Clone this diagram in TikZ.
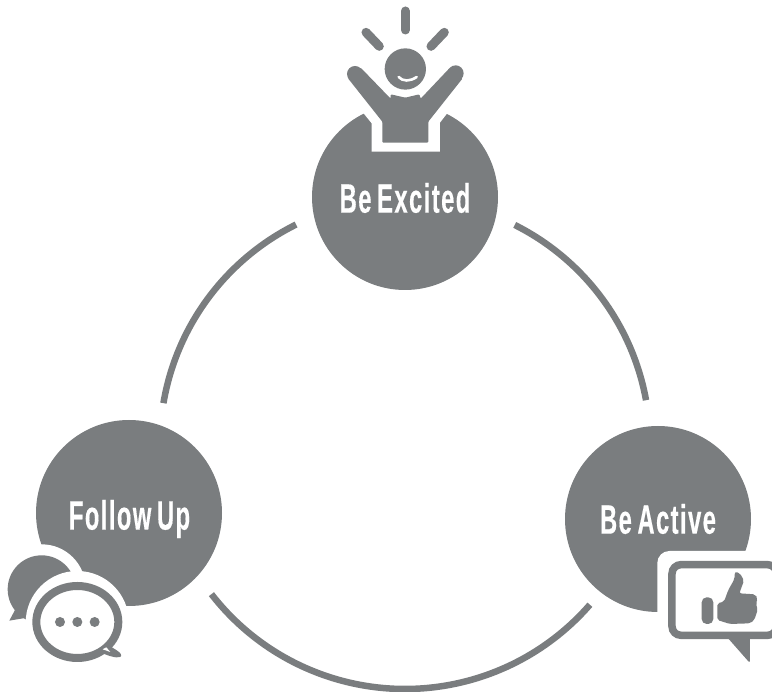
\documentclass[tikz,border=0pt]{standalone}
\usepackage{fontspec}
\setmainfont[FakeStretch=0.58,FakeBold=0.3,LetterSpace=3.5,WordSpace=0.7]{Liberation Sans Bold}
\definecolor{ink}{HTML}{7A7D7F}
\tikzset{
  disc/.style={circle,fill=ink,inner sep=0pt,minimum size=#1},
  lab/.style={text=white,inner sep=0pt,font=\fontsize{41}{41}\selectfont},
  ringarc/.style={draw=ink,line width=6.5pt},
  ray/.style={draw=ink,line width=9pt,line cap=round},
  halo/.style={fill=white,draw=none},
  solid ink/.style={fill=ink,draw=none}
}
\begin{document}
\begin{tikzpicture}[x=1pt,y=-1pt]
\useasboundingbox (0,0) rectangle (772,692);
\clip (0,0) rectangle (772,692);
\coordinate (ring) at (405,444);
\draw[ringarc] ([shift={(243.6:245)}]ring) arc[start angle=243.6,end angle=189.6,radius=245];
\draw[ringarc] ([shift={(-63.4:245)}]ring) arc[start angle=-63.4,end angle=-10.3,radius=245];
\draw[ringarc] ([shift={(142.2:245)}]ring) arc[start angle=142.2,end angle=41,radius=245];
\node[disc=186pt] (top) at (405,197) {};
\node[disc=186pt] (left) at (129,513) {};
\node[disc=186pt] (right) at (658,519) {};
% excited person (coordinates of a 3x crop)
\begin{scope}[shift={(300,0)},x=0.3333pt,y=-0.3333pt]
\fill[halo] (185,333) -- (215,370) -- (215,455) -- (420,455) -- (420,368) -- (447,333) -- (447,200) -- (185,200) -- cycle;
\coordinate (r1a) at (316,33); \coordinate (r1b) at (316,90);
\coordinate (r2a) at (198,97); \coordinate (r2b) at (238,139);
\coordinate (r3a) at (433,97); \coordinate (r3b) at (393,139);
\draw[ray] (r1a) -- (r1b);
\draw[ray] (r2a) -- (r2b);
\draw[ray] (r3a) -- (r3b);
\fill[solid ink] (316,207) circle[radius=62];
\draw[white,line width=2.6pt,line cap=round] (296,231) .. controls (308,245) and (330,245) .. (350,231);
\fill[solid ink,rounded corners=1pt] (144,235) -- (247,365) -- (247,428) -- (385,428) -- (385,365) -- (488,235) -- (450,203) -- (362,296) -- (358,283) -- (316,293) -- (272,283) -- (272,296) -- (182,203) -- cycle;
\fill[solid ink] (165,222) circle[radius=24];
\fill[solid ink] (467,220) circle[radius=24];
\end{scope}
% chat icon
\begin{scope}[shift={(0,530)},x=0.3333pt,y=-0.3333pt]
\fill[halo] (125,175) circle[radius=132];
\fill[solid ink] (125,178) circle[radius=102];
\fill[solid ink] (45,240) -- (28,272) -- (75,264) -- cycle;
\fill[halo] (232,278) circle[radius=155];
\draw[ink,line width=8pt] (232,276) ellipse[x radius=123,y radius=108];
\fill[solid ink,rounded corners=2pt] (296,366) -- (316,338) -- (345,358) .. controls (362,368) and (368,378) .. (355,383) -- (335,380) -- cycle;
\fill[white] (319,352) -- (331,366) -- (308,358) -- cycle;
\fill[solid ink] (180,276) circle[radius=15];
\fill[solid ink] (232,276) circle[radius=15];
\fill[solid ink] (284,276) circle[radius=15];
\end{scope}
% thumbs icon
\begin{scope}[shift={(620,540)},x=0.3333pt,y=-0.3333pt]
\fill[halo,rounded corners=12pt] (112,33) rectangle (520,420);
\fill[solid ink] (320,290) -- (386,365) -- (390,365) -- (390,290) -- cycle;
\draw[ink,line width=7.5pt,rounded corners=9pt] (156,74) rectangle (470,286);
\fill[solid ink,rounded corners=5pt] (245,172) rectangle (280,252);
\fill[solid ink,rounded corners=2pt] (292,190) -- (312,185) -- (325,150) -- (343,118) -- (345,95) -- (360,100) -- (372,122) -- (358,160) -- (405,163) -- (413,175) -- (408,190) -- (413,210) -- (408,225) -- (403,240) -- (390,250) -- (330,252) -- (292,240) -- cycle;
\end{scope}
\node[lab] (t1) at (405,198) {Be Excited};
\node[lab] (t2) at (129.5,519) {Follow Up};
\node[lab] (t3) at (658,519) {Be Active};
\end{tikzpicture}
\end{document}
